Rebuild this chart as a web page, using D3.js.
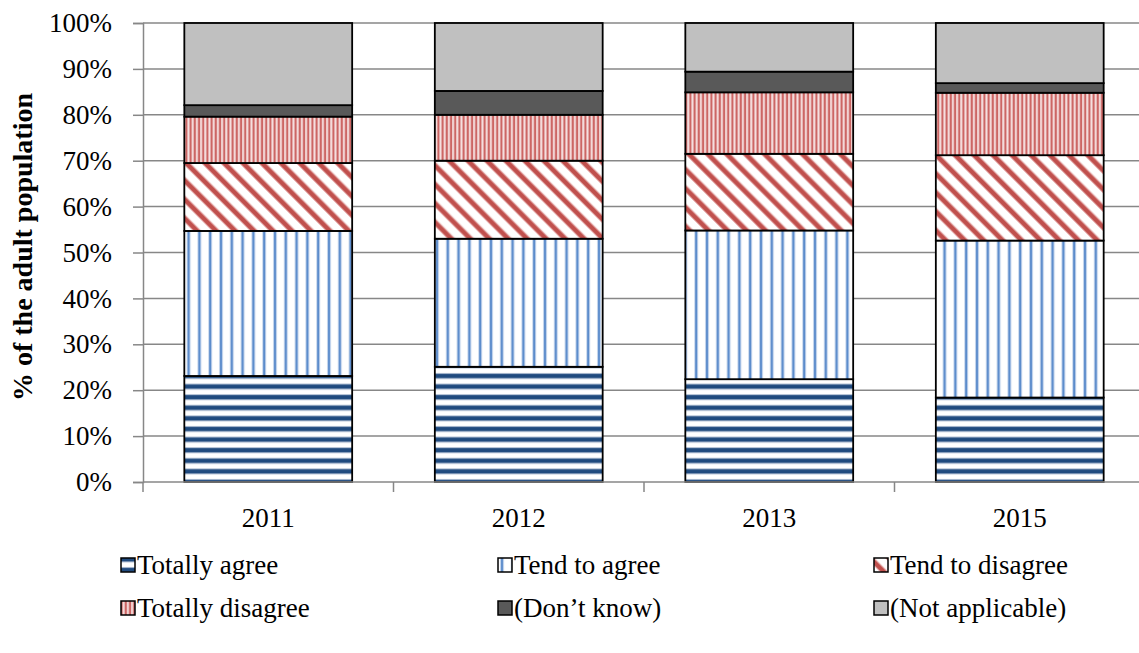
<!DOCTYPE html>
<html>
<head>
<meta charset="utf-8">
<script src="https://cdn.jsdelivr.net/npm/d3@7"></script>
<style>
  body { margin: 0; background: #fff; }
  text { font-family: "Liberation Serif", "Times New Roman", serif; }
</style>
</head>
<body>
<div id="chart"></div>
<script>
//datos
var years = ['2011', '2012', '2013', '2015']
var seriesNames = ['Totally agree', 'Tend to agree', 'Tend to disagree', 'Totally disagree', '(Don\u2019t know)', '(Not applicable)']
var totallyAgree = [23.1, 25.1, 22.4, 18.4]
var tendToAgree = [31.6, 27.9, 32.4, 34.2]
var tendToDisagree = [14.8, 17.0, 16.7, 18.6]
var totallyDisagree = [10.1, 10.0, 13.4, 13.6]
var dontKnow = [2.5, 5.2, 4.5, 2.1]
var notApplicable = [17.9, 14.8, 10.6, 13.1]
var yTicks = [0, 10, 20, 30, 40, 50, 60, 70, 80, 90, 100]

//dimensiones
var w = 1139
var h = 653
var plotLeft = 143
var plotRight = 1145
var plotTop = 23
var plotBottom = 482
var fontSize = '27px'

var svg = d3.select('#chart')
    .append('svg')
    .attr('width', w)
    .attr('height', h)

//patrones de relleno
var defs = svg.append('defs')

var p1 = defs.append('pattern').attr('id', 'pTA')
    .attr('patternUnits', 'userSpaceOnUse').attr('width', 10).attr('height', 10.6)
p1.append('rect').attr('width', 10).attr('height', 10.6).attr('fill', '#fff')
p1.append('rect').attr('y', 2).attr('width', 10).attr('height', 6).attr('fill', '#a9b9cf')
p1.append('rect').attr('y', 3).attr('width', 10).attr('height', 4).attr('fill', '#1f4a7e')

var p2 = defs.append('pattern').attr('id', 'pTtA')
    .attr('patternUnits', 'userSpaceOnUse').attr('width', 10.8).attr('height', 10)
p2.append('rect').attr('width', 10.8).attr('height', 10).attr('fill', '#fff')
p2.append('rect').attr('x', 3).attr('width', 4).attr('height', 10).attr('fill', '#c6d7ee')
p2.append('rect').attr('x', 4).attr('width', 2).attr('height', 10).attr('fill', '#5b8bcb')

var p3 = defs.append('pattern').attr('id', 'pTtD')
    .attr('patternUnits', 'userSpaceOnUse').attr('width', 13.4).attr('height', 13.4)
    .attr('patternTransform', 'rotate(-45)')
p3.append('rect').attr('width', 13.4).attr('height', 13.4).attr('fill', '#fff')
p3.append('rect').attr('x', 0).attr('width', 6).attr('height', 13.4).attr('fill', '#e2a3a2')
p3.append('rect').attr('x', 1).attr('width', 4).attr('height', 13.4).attr('fill', '#c0504d')

var p4 = defs.append('pattern').attr('id', 'pTD')
    .attr('patternUnits', 'userSpaceOnUse').attr('width', 4.2).attr('height', 10)
p4.append('rect').attr('width', 4.2).attr('height', 10).attr('fill', '#f6e2e2')
p4.append('rect').attr('x', 0.5).attr('width', 2.2).attr('height', 10).attr('fill', '#cc6664')

var fills = ['url(#pTA)', 'url(#pTtA)', 'url(#pTtD)', 'url(#pTD)', '#595959', '#c0c0c0']

//escalas
var scaleX = d3.scaleBand()
    .domain(years)
    .range([plotLeft, plotRight])
    .paddingInner(0.33)
    .paddingOuter(0.165)

var scaleY = d3.scaleLinear()
    .domain([0, 100])
    .range([plotBottom, plotTop])

//rejilla
svg.append('g')
    .selectAll('line')
    .data(yTicks.slice(1))
    .enter()
    .append('line')
    .attr('x1', plotLeft)
    .attr('x2', w)
    .attr('y1', (d) => scaleY(d))
    .attr('y2', (d) => scaleY(d))
    .attr('stroke', '#878787')
    .attr('stroke-width', 1.5)

//datos apilados
var table = years.map(function(y, i) {
    var row = { year: y }
    row[seriesNames[0]] = totallyAgree[i]
    row[seriesNames[1]] = tendToAgree[i]
    row[seriesNames[2]] = tendToDisagree[i]
    row[seriesNames[3]] = totallyDisagree[i]
    row[seriesNames[4]] = dontKnow[i]
    row[seriesNames[5]] = notApplicable[i]
    return row
})
var stacked = d3.stack().keys(seriesNames)(table)

var layers = svg.append('g')
    .selectAll('g')
    .data(stacked)
    .enter()
    .append('g')
    .attr('fill', (d, i) => fills[i])

layers.selectAll('rect')
    .data((d) => d)
    .enter()
    .append('rect')
    .attr('x', (d) => scaleX(d.data.year))
    .attr('y', (d) => scaleY(d[1]))
    .attr('width', scaleX.bandwidth())
    .attr('height', (d) => scaleY(d[0]) - scaleY(d[1]))
    .attr('stroke', '#000')
    .attr('stroke-width', 1.8)

//ejes
var yaxis = d3.axisLeft(scaleY)
    .tickValues(yTicks)
    .tickFormat((d) => d + '%')
    .tickSize(10)
    .tickPadding(21)

var gy = svg.append('g')
    .attr('transform', 'translate(' + plotLeft + ',0)')
    .call(yaxis)
gy.select('.domain').attr('stroke', '#878787').attr('stroke-width', 1.5)
gy.selectAll('.tick line').attr('stroke', '#878787').attr('stroke-width', 1.5)
gy.selectAll('.tick text')
    .attr('font-family', '"Liberation Serif", serif')
    .attr('font-size', fontSize)
    .attr('fill', '#000')

var xaxis = d3.axisBottom(scaleX)
    .tickSize(0)
    .tickPadding(26)

var gx = svg.append('g')
    .attr('transform', 'translate(0,' + plotBottom + ')')
    .call(xaxis)
gx.select('.domain').remove()
gx.append('line')
    .attr('x1', plotLeft).attr('x2', w)
    .attr('stroke', '#878787').attr('stroke-width', 1.5)
gx.selectAll('.tick text')
    .attr('font-family', '"Liberation Serif", serif')
    .attr('font-size', fontSize)
    .attr('fill', '#000')

//marcas entre categorias
var step = scaleX.step()
gx.append('g')
    .selectAll('line')
    .data(d3.range(years.length))
    .enter()
    .append('line')
    .attr('x1', (d) => plotLeft + d * step)
    .attr('x2', (d) => plotLeft + d * step)
    .attr('y1', 0)
    .attr('y2', 10)
    .attr('stroke', '#878787')
    .attr('stroke-width', 1.5)

//titulo del eje y
svg.append('text')
    .attr('transform', 'translate(32,247) rotate(-90)')
    .attr('text-anchor', 'middle')
    .attr('font-size', '28px')
    .attr('font-weight', 'bold')
    .text('% of the adult population')

//leyenda
var legendX = [120, 497, 873]
var legendY = [565, 608]
var legend = svg.append('g')
    .selectAll('g')
    .data(seriesNames)
    .enter()
    .append('g')
    .attr('transform', (d, i) => 'translate(' + legendX[i % 3] + ',' + legendY[Math.floor(i / 3)] + ')')

legend.append('rect')
    .attr('x', 1)
    .attr('y', -7)
    .attr('width', 14)
    .attr('height', 14)
    .attr('fill', (d, i) => fills[i])
    .attr('stroke', '#000')
    .attr('stroke-width', 1.5)

legend.append('text')
    .attr('x', 17)
    .attr('y', 0)
    .attr('dy', '0.35em')
    .attr('font-size', fontSize)
    .text((d) => d)
</script>
</body>
</html>
